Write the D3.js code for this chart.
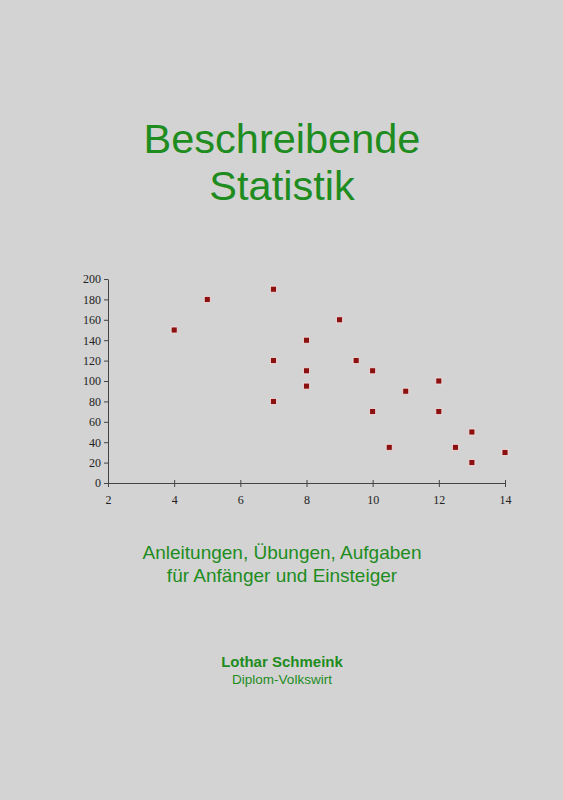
<!DOCTYPE html><html><head><script src="https://cdn.jsdelivr.net/npm/d3@7"></script>
<style>body{margin:0;background:#d3d3d3}</style></head><body><script>
const xs=[4,5,7,7,7,8,8,8,9,9.5,10,10,10.5,11,12,12,12.5,13,13,14];
const ys=[150,180,190,120,80,140,110,95,160,120,110,70,35,90,100,70,35,50,20,30];
const xTicks=[2,4,6,8,10,12,14];
const yTicks=[0,20,40,60,80,100,120,140,160,180,200];
const W=563,H=800,g="#1e8c1e";
const svg=d3.select("body").append("svg").attr("width",W).attr("height",H).style("background","#d3d3d3");
const t=(y,s,txt,w,f)=>svg.append("text").attr("x",282).attr("y",y).attr("text-anchor","middle").attr("fill",g).style("font-family",f||"Liberation Sans, Arial").style("font-size",s+"px").style("font-weight",w||"normal").text(txt);
t(153,41.5,"Beschreibende");t(200,41.5,"Statistik");
t(559,19,"Anleitungen, Übungen, Aufgaben");t(582,19,"für Anfänger und Einsteiger");
t(667,15,"Lothar Schmeink","bold");t(684,13.5,"Diplom-Volkswirt");
const x=d3.scaleLinear().domain([2,14]).range([108,505]);
const y=d3.scaleLinear().domain([0,200]).range([483,279]);
const ax=svg.append("g").attr("transform","translate(0,483)").call(d3.axisBottom(x).tickValues(xTicks).tickSize(4).tickSizeOuter(0).tickPadding(8));
const ay=svg.append("g").attr("transform","translate(108,0)").call(d3.axisLeft(y).tickValues(yTicks).tickSize(4).tickSizeOuter(0).tickPadding(3));
[ax,ay].forEach(a=>{a.selectAll("text").style("font-family","Liberation Serif, Times New Roman").style("font-size","12px").attr("fill","#222");a.selectAll("line,path").attr("stroke","#444")});
ax.selectAll(".tick line").attr("y1",-3);
svg.selectAll("rect.p").data(xs).enter().append("rect").attr("class","p")
 .attr("x",(d)=>x(d)-3).attr("y",(d,i)=>y(ys[i])-3).attr("width",6).attr("height",6)
 .attr("fill","#8b1010").attr("stroke","#f4e0e0").attr("stroke-width",0.8);
</script></body></html>
